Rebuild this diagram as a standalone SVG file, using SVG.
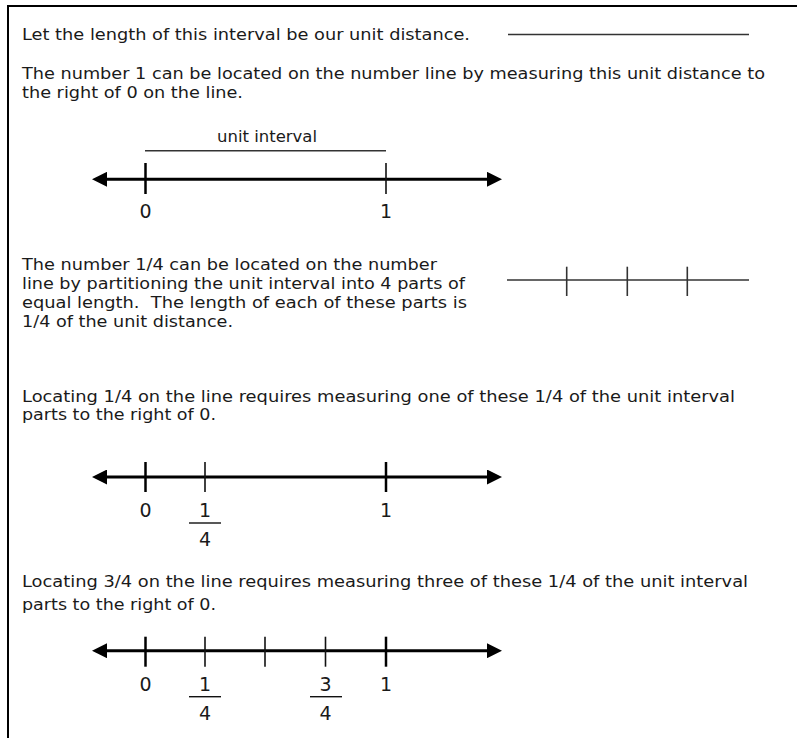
<svg xmlns="http://www.w3.org/2000/svg" width="797" height="738" viewBox="0 0 797 738">
<defs>
<style>
.t{font-family:"DejaVu Sans","Verdana","Liberation Sans",sans-serif;font-size:16px;fill:#1a1a1a}
.n{font-family:"DejaVu Sans","Verdana","Liberation Sans",sans-serif;font-size:19px;fill:#1a1a1a;text-anchor:middle}
.c{text-anchor:middle}
.axis{stroke:#000;stroke-width:3;fill:none}
.tk{stroke:#000;stroke-width:2.5}
.tn{stroke:#111;stroke-width:1.6}
.thin{stroke:#333;stroke-width:1.6}
.bar{stroke:#111;stroke-width:1.4}
</style>
<marker id="ah" viewBox="0 0 10 10" refX="0" refY="5" markerWidth="20" markerHeight="15" markerUnits="userSpaceOnUse" orient="auto-start-reverse">
<path d="M0,0 L10,5 L0,10 Z" fill="#000"/>
</marker>
</defs>
<rect x="0" y="0" width="797" height="738" fill="#fff"/>
<path d="M8,738 V6 H797" stroke="#000" stroke-width="2" fill="none"/>

<g id="intro">
<text class="t" x="22" y="40" textLength="448" lengthAdjust="spacingAndGlyphs">Let the length of this interval be our unit distance.</text>
<line class="thin" x1="508" y1="34.5" x2="749" y2="34.5"/>
<text class="t" x="22" y="79" textLength="743" lengthAdjust="spacingAndGlyphs">The number 1 can be located on the number line by measuring this unit distance to</text>
<text class="t" x="22" y="98" textLength="221" lengthAdjust="spacingAndGlyphs">the right of 0 on the line.</text>
</g>

<g id="numberline1">
<text class="t c" x="267" y="141.5" textLength="100" lengthAdjust="spacingAndGlyphs">unit interval</text>
<line class="thin" x1="145" y1="150.7" x2="386" y2="150.7"/>
<line class="axis" x1="107" y1="179.3" x2="487" y2="179.3" marker-start="url(#ah)" marker-end="url(#ah)"/>
<line class="tk" x1="145.5" y1="163" x2="145.5" y2="194"/>
<line class="tn" x1="386" y1="163" x2="386" y2="194"/>
<text class="n" x="145.5" y="218.3">0</text>
<text class="n" x="386" y="218.3">1</text>
</g>

<g id="partition">
<text class="t" x="22" y="270" textLength="415" lengthAdjust="spacingAndGlyphs">The number 1/4 can be located on the number</text>
<text class="t" x="22" y="289" textLength="443" lengthAdjust="spacingAndGlyphs">line by partitioning the unit interval into 4 parts of</text>
<text class="t" x="22" y="308" textLength="445" lengthAdjust="spacingAndGlyphs" xml:space="preserve">equal length.  The length of each of these parts is</text>
<text class="t" x="22" y="327" textLength="211" lengthAdjust="spacingAndGlyphs">1/4 of the unit distance.</text>
<line class="thin" x1="507" y1="280" x2="749" y2="280"/>
<line class="thin" x1="566.7" y1="266.7" x2="566.7" y2="296"/>
<line class="thin" x1="627.3" y1="266.7" x2="627.3" y2="296"/>
<line class="thin" x1="687.3" y1="266.7" x2="687.3" y2="296"/>
</g>

<g id="numberline2">
<text class="t" x="22" y="401.7" textLength="713" lengthAdjust="spacingAndGlyphs">Locating 1/4 on the line requires measuring one of these 1/4 of the unit interval</text>
<text class="t" x="22" y="419.7" textLength="194" lengthAdjust="spacingAndGlyphs">parts to the right of 0.</text>
<line class="axis" x1="107" y1="477" x2="487" y2="477" marker-start="url(#ah)" marker-end="url(#ah)"/>
<line class="tk" x1="145.5" y1="462" x2="145.5" y2="492"/>
<line class="tn" x1="205" y1="462" x2="205" y2="492"/>
<line class="tk" x1="386" y1="462" x2="386" y2="492"/>
<text class="n" x="145.5" y="517">0</text>
<text class="n" x="205" y="517">1</text>
<line class="bar" x1="189" y1="523" x2="221" y2="523"/>
<text class="n" x="205" y="546">4</text>
<text class="n" x="386" y="517">1</text>
</g>

<g id="numberline3">
<text class="t" x="22" y="587" textLength="726" lengthAdjust="spacingAndGlyphs">Locating 3/4 on the line requires measuring three of these 1/4 of the unit interval</text>
<text class="t" x="22" y="609.5" textLength="194" lengthAdjust="spacingAndGlyphs">parts to the right of 0.</text>
<line class="axis" x1="107" y1="650.7" x2="487" y2="650.7" marker-start="url(#ah)" marker-end="url(#ah)"/>
<line class="tk" x1="145.5" y1="636.7" x2="145.5" y2="666.7"/>
<line class="tn" x1="205" y1="636.7" x2="205" y2="666.7"/>
<line class="tn" x1="265" y1="636.7" x2="265" y2="666.7"/>
<line class="tn" x1="325.5" y1="636.7" x2="325.5" y2="666.7"/>
<line class="tk" x1="386" y1="636.7" x2="386" y2="666.7"/>
<text class="n" x="145.5" y="690.7">0</text>
<text class="n" x="205" y="690.7">1</text>
<line class="bar" x1="189" y1="696.7" x2="221" y2="696.7"/>
<text class="n" x="205" y="720">4</text>
<text class="n" x="325.5" y="690.7">3</text>
<line class="bar" x1="310" y1="696.7" x2="342" y2="696.7"/>
<text class="n" x="325.5" y="720">4</text>
<text class="n" x="386" y="690.7">1</text>
</g>
</svg>
